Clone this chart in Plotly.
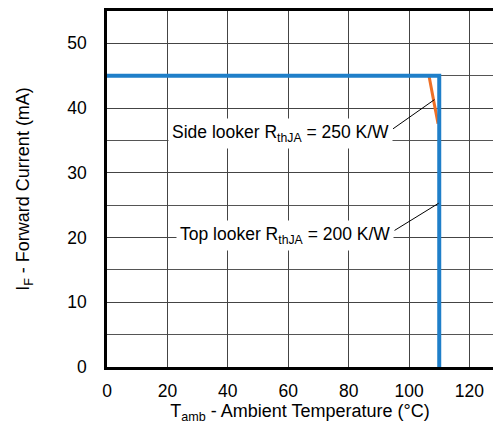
import plotly.graph_objects as go

# Data
top_x = [0, 110, 110]
top_y = [45, 45, 0]
side_x = [106.6, 109.6]
side_y = [45, 37.6]

x_ticks = [0, 20, 40, 60, 80, 100, 120]
y_ticks = [0, 10, 20, 30, 40, 50]

side_label = "Side looker R<sub>thJA</sub> = 250 K/W"
top_label = "Top looker R<sub>thJA</sub> = 200 K/W"

BLUE = "#1f7fc9"
ORANGE = "#ee7026"
FONT = "Liberation Sans, Arial, sans-serif"

fig = go.Figure()
fig.add_trace(go.Scatter(x=side_x, y=side_y, mode="lines",
                         line=dict(color=ORANGE, width=3), showlegend=False))
fig.add_trace(go.Scatter(x=top_x, y=top_y, mode="lines",
                         line=dict(color=BLUE, width=4), showlegend=False))

# leader lines
fig.add_shape(type="line", x0=94.7, y0=36.8, x1=108.4, y1=41.3,
              line=dict(color="black", width=1), layer="above")
fig.add_shape(type="line", x0=95.2, y0=21.1, x1=109.8, y1=25.3,
              line=dict(color="black", width=1), layer="above")

fig.add_annotation(x=57.5, y=36.0, text=side_label, showarrow=False,
                   bgcolor="white", borderpad=3,
                   font=dict(size=17.5, color="black", family=FONT))
fig.add_annotation(x=59.0, y=20.3, text=top_label, showarrow=False,
                   bgcolor="white", borderpad=3,
                   font=dict(size=17.5, color="black", family=FONT))

fig.update_layout(
    width=493, height=431,
    margin=dict(l=107, r=0, t=11, b=64),
    paper_bgcolor="white", plot_bgcolor="white",
    font=dict(family=FONT, size=17.5, color="black"),
    showlegend=False,
)
fig.update_xaxes(
    range=[0, 127.8], tickvals=x_ticks, ticktext=[str(v) for v in x_ticks],
    showgrid=True, gridcolor="#444", gridwidth=1,
    showline=True, linecolor="black", linewidth=2.5, mirror=True,
    ticks="", ticklabelstandoff=6, zeroline=False,
    title=dict(text="T<sub>amb</sub> - Ambient Temperature (°C)", standoff=1,
               font=dict(size=18)),
)
fig.update_yaxes(
    range=[0, 55], tickvals=y_ticks, ticktext=[str(v) for v in y_ticks],
    showgrid=True, gridcolor="#444", gridwidth=1,
    minor=dict(dtick=5, tick0=0, showgrid=True, gridcolor="#555", gridwidth=1),
    showline=True, linecolor="black", linewidth=2.5, mirror=False,
    ticks="", ticklabelstandoff=14, zeroline=False,
    title=dict(text="I<sub>F</sub> - Forward Current (mA)", standoff=33,
               font=dict(size=18)),
)

fig.write_html("out.html")
